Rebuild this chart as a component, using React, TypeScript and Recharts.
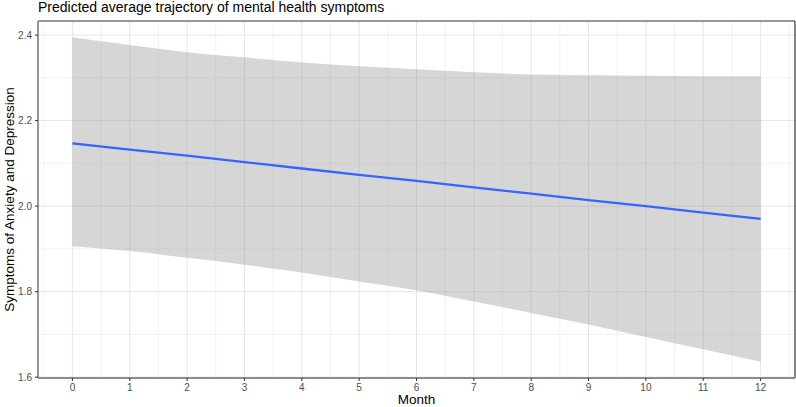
import React from "react";
import {
  ComposedChart,
  Area,
  Line,
  XAxis,
  YAxis,
  CartesianGrid,
  ReferenceLine,
} from "recharts";

// Months of follow-up
const months = [0, 1, 2, 3, 4, 5, 6, 7, 8, 9, 10, 11, 12];
// Predicted mean symptom score
const predicted = [2.147, 2.132, 2.118, 2.103, 2.088, 2.073, 2.059, 2.044, 2.029, 2.014, 2.0, 1.985, 1.97];
// Confidence band bounds
const upperBound = [2.395, 2.377, 2.36, 2.348, 2.336, 2.327, 2.32, 2.313, 2.308, 2.306, 2.305, 2.304, 2.304];
const lowerBound = [1.906, 1.895, 1.879, 1.863, 1.845, 1.824, 1.803, 1.777, 1.75, 1.723, 1.694, 1.665, 1.636];

const yTicks = [1.6, 1.8, 2.0, 2.2, 2.4];
const yMinorTicks = [1.7, 1.9, 2.1, 2.3];
const xMinorTicks = [-0.5, 0.5, 1.5, 2.5, 3.5, 4.5, 5.5, 6.5, 7.5, 8.5, 9.5, 10.5, 11.5, 12.5];

const data = months.map((m, i) => ({
  month: m,
  fit: predicted[i],
  lower: lowerBound[i],
  upper: upperBound[i],
}));

// 5% expansion on each side of the data range
const xLo = Math.min(...months);
const xHi = Math.max(...months);
const xPad = (xHi - xLo) * 0.05;
const yLo = Math.min(...lowerBound);
const yHi = Math.max(...upperBound);
const yPad = (yHi - yLo) * 0.05;
const xDomain: [number, number] = [xLo - xPad, xHi + xPad];
const yDomain: [number, number] = [yLo - yPad, yHi + yPad];

const FONT = '"Liberation Sans", Arial, Helvetica, sans-serif';

export default function App() {
  return (
    <div style={{ position: "absolute", left: 0, top: 0, width: 796, height: 407, background: "#fff", fontFamily: FONT }}>
      <div
        style={{
          position: "absolute",
          left: 38,
          top: 0,
          fontSize: 14,
          lineHeight: "15px",
          color: "#000",
          whiteSpace: "nowrap",
        }}
      >
        Predicted average trajectory of mental health symptoms
      </div>
      <ComposedChart
        width={796}
        height={407}
        data={data}
        margin={{ top: 21, right: 1, bottom: 0, left: 0 }}
        style={{ fontFamily: FONT }}
      >
        <CartesianGrid
          stroke="#efefef"
          strokeWidth={0.8}
          horizontalValues={yMinorTicks}
          verticalValues={xMinorTicks}
        />
        <CartesianGrid
          stroke="#e6e6e6"
          strokeWidth={1}
          horizontalValues={yTicks}
          verticalValues={months}
        />
        <XAxis
          dataKey="month"
          type="number"
          domain={xDomain}
          allowDataOverflow
          ticks={months}
          interval={0}
          height={29}
          tickSize={3}
          tickMargin={3}
          axisLine={{ stroke: "#8c8c8c", strokeWidth: 1.8 }}
          tickLine={{ stroke: "#333", strokeWidth: 1 }}
          tick={{ fill: "#4d4d4d", fontSize: 10 }}
          label={(props: any) => {
            const vb = props.viewBox || {};
            return (
              <text x={vb.x + vb.width / 2} y={vb.y + 26} textAnchor="middle" fontSize={13.5} fill="#000">
                Month
              </text>
            );
          }}
        />
        <YAxis
          type="number"
          domain={yDomain}
          allowDataOverflow
          ticks={yTicks}
          interval={0}
          width={38}
          tickSize={3}
          tickMargin={3}
          tickFormatter={(v: number) => v.toFixed(1)}
          axisLine={{ stroke: "#8c8c8c", strokeWidth: 1.8 }}
          tickLine={{ stroke: "#333", strokeWidth: 1 }}
          tick={{ fill: "#4d4d4d", fontSize: 10 }}
          label={(props: any) => {
            const vb = props.viewBox || {};
            const cx = vb.x + 14;
            const cy = vb.y + vb.height / 2;
            return (
              <text
                x={cx}
                y={cy}
                textAnchor="middle"
                fontSize={13.5}
                fill="#000"
                transform={`rotate(-90 ${cx} ${cy})`}
              >
                Symptoms of Anxiety and Depression
              </text>
            );
          }}
        />
        <Area
          dataKey={(d: any) => [d.lower, d.upper]}
          type="monotone"
          stroke="none"
          fill="#999999"
          fillOpacity={0.4}
          isAnimationActive={false}
          dot={false}
          activeDot={false}
        />
        <Line
          dataKey="fit"
          type="linear"
          stroke="#3366FF"
          strokeWidth={2.3}
          dot={false}
          activeDot={false}
          isAnimationActive={false}
        />
        <ReferenceLine y={yDomain[1]} stroke="#333" strokeWidth={1.2} ifOverflow="extendDomain" />
        <ReferenceLine x={xDomain[1]} stroke="#333" strokeWidth={1.2} ifOverflow="extendDomain" />
      </ComposedChart>
    </div>
  );
}
